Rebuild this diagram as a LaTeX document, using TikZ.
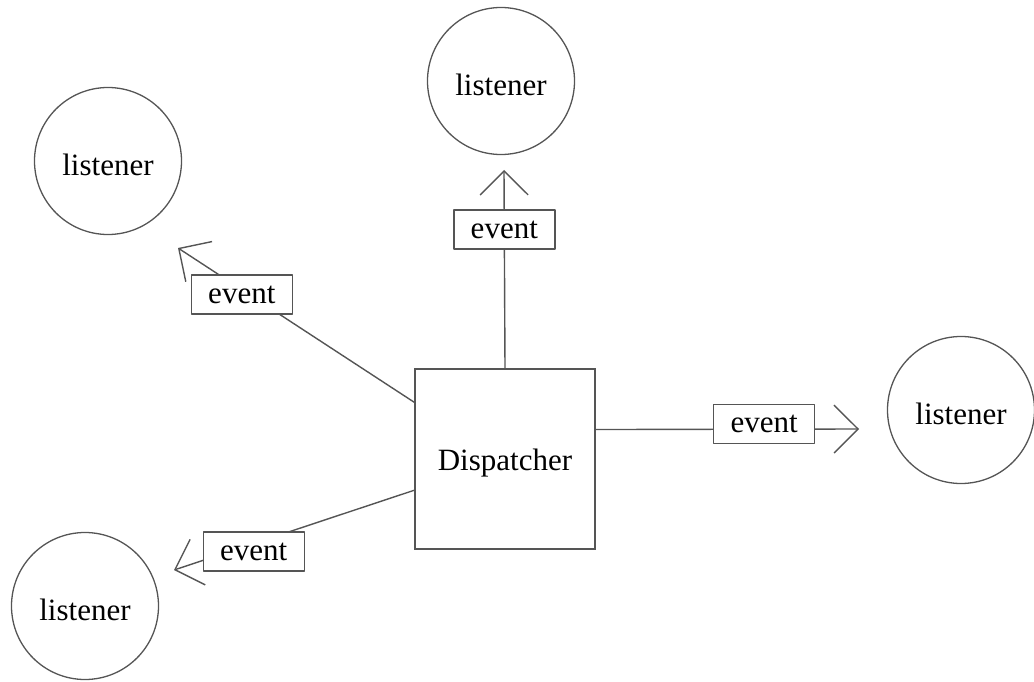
\documentclass[tikz,border=0pt]{standalone}
\usepackage{fontspec}
\setmainfont{Liberation Serif}
\usetikzlibrary{arrows.meta}
\definecolor{linegray}{RGB}{85,85,85}
% lower a label a little inside its shape, keeping the box size
\newcommand{\lowered}[1]{\raisebox{-4pt}[\height][\depth]{#1}}
\begin{document}
\begin{tikzpicture}[x=1pt,y=-1pt,
  every node/.style={font=\fontsize{31}{37}\selectfont, text=black},
  listener/.style={draw=linegray, circle, line width=1.3pt, minimum size=147pt, inner sep=0pt},
  dispbox/.style={draw=linegray, rectangle, line width=1.4pt, minimum width=180pt, minimum height=180pt, inner sep=0pt},
  evbox/.style={draw=linegray, fill=white, rectangle, line width=1.4pt, minimum width=101pt, minimum height=39pt, inner sep=0pt},
  conn/.style={draw=linegray, line width=1.4pt, line join=round,
    -{Straight Barb[length=24pt, width=48pt, line width=1.4pt]}}
]
\path[use as bounding box] (0,0) rectangle (1034,682);

% central dispatcher
\node[dispbox] (disp) at (505,459) {\lowered{Dispatcher}};

% listeners around it
\node[listener] (lTop)   at (501,81)  {\lowered{listener}};
\node[listener] (lUL)    at (108,161) {\lowered{listener}};
\node[listener] (lRight) at (961,410) {\lowered{listener}};
\node[listener] (lLL)    at (85,606)  {\lowered{listener}};

% free ends of the event arrows
\coordinate (tTop)   at (504,170);
\coordinate (tUL)    at (178,248);
\coordinate (tRight) at (859,429);
\coordinate (tLL)    at (174,570);

% event arrows, each with its label box
\draw[conn] (disp.north) -- node[evbox, pos=0.70] (eTop) {event} (tTop);
\draw[conn] (disp.148) -- node[evbox, pos=0.73, yshift=-5pt] (eUL) {event} (tUL);
\draw[conn] (disp.18.4) -- node[evbox, pos=0.64, yshift=5pt] (eRight) {event} (tRight);
\draw[conn] (disp.199) -- node[evbox, pos=0.668, yshift=-8pt] (eLL) {event} (tLL);
\end{tikzpicture}
\end{document}
